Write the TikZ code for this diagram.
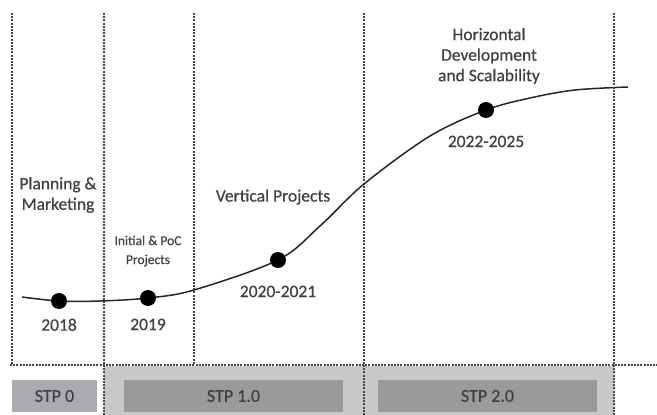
\documentclass[tikz,border=0pt]{standalone}
\usepackage{fontspec}
\setmainfont{Carlito}
\newfontfamily\semi{Carlito}[FakeBold=0.5]
\usetikzlibrary{positioning}
\definecolor{txtgray}{HTML}{404040}
\definecolor{lightbar}{HTML}{C8C8C8}
\definecolor{darkbar}{HTML}{9A9A9A}
\definecolor{stpzero}{HTML}{ABABAF}
\tikzset{
  grid/.style={draw=black!72,line width=1.2pt,dash pattern=on 2pt off 1.2pt},
  dot/.style={circle,fill=black,inner sep=0pt,minimum size=16pt},
  lbl/.style={text=txtgray,font=\semi\fontsize{17.5}{20.5}\selectfont,align=center},
  small/.style={text=txtgray,font=\semi\fontsize{13.5}{19}\selectfont,align=center},
  stpbox/.style={text=txtgray,font=\semi\fontsize{18}{20}\selectfont,minimum height=32pt,inner sep=0pt}
}
\begin{document}
\begin{tikzpicture}[x=1pt,y=-1pt]
\useasboundingbox (0,0) rectangle (657,415);
% bottom band
\fill[lightbar] (104,366) rectangle (614,415);
\node[stpbox,fill=stpzero,minimum width=85pt] (stp0) at (54.5,396) {STP 0};
\node[stpbox,fill=darkbar,minimum width=219pt] (stp1) at (233.5,396) {STP 1.0};
\node[stpbox,fill=darkbar,minimum width=219pt] (stp2) at (487.5,396) {STP 2.0};
% dashed frame
\draw[grid] (10,365) -- (657,365);
\draw[grid] (12,13) -- (12,365);
\draw[grid] (104,13) -- (104,415);
\draw[grid] (194,13) -- (194,365);
\draw[grid] (364,13) -- (364,415);
\draw[grid] (614,13) -- (614,415);
% curve
\draw[line width=1.5pt,black!85] plot[smooth,tension=0.55] coordinates {(22,297) (59,301) (100,301) (148,298) (194,290) (278,260) (320,226) (364,184) (430,136) (486,110) (530,98) (575,90) (628,87)};
\node[dot] (d2018) at (59,301) {};
\node[dot] (d2019) at (148,298) {};
\node[dot] (d2020) at (278,260) {};
\node[dot] (d2022) at (486,110) {};
\node[lbl,below=6pt of d2018] (y2018) {2018};
\node[lbl,below=9pt of d2019] (y2019) {2019};
\node[lbl,below=14pt of d2020] (y2020) {2020-2021};
\node[lbl,below=14pt of d2022] (y2022) {2022-2025};
% phase labels
\node[lbl] (plan) at (58,195) {Planning \&\\Marketing};
\node[small] (init) at (148,251) {Initial \& PoC\\Projects};
\node[lbl] (vert) at (273,197) {Vertical Projects};
\node[lbl] (horiz) at (489,56) {Horizontal\\Development\\and Scalability};
\end{tikzpicture}
\end{document}
